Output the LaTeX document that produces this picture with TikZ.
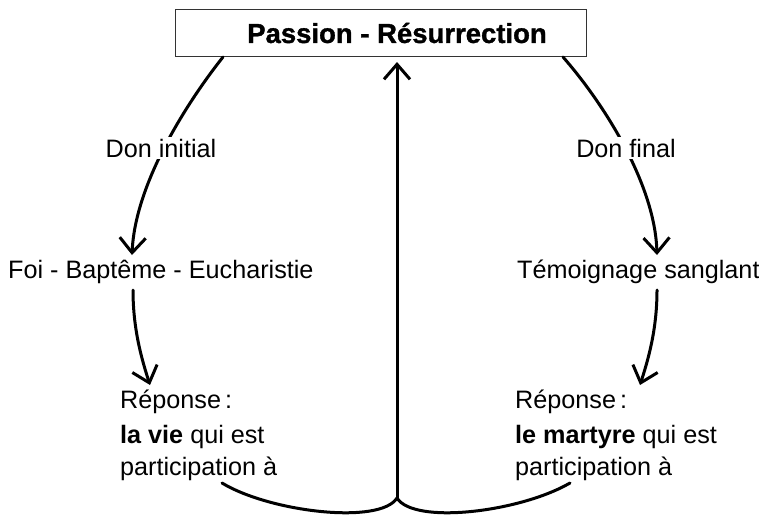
\documentclass[tikz,border=0pt]{standalone}
\usepackage{fontspec}
\setmainfont{Liberation Sans}
\newfontfamily\heavyfont{Liberation Sans Bold}[FakeBold=1.2]
\usetikzlibrary{arrows.meta}
\begin{document}
\begin{tikzpicture}[x=1pt,y=-1pt,
  lbl/.style={font=\fontsize{25.2}{28}\selectfont, inner sep=0pt},
  curve/.style={line width=3pt, line cap=round},
  arr/.style={curve, -{Straight Barb[length=15pt,width=26pt]}},
  frame/.style={draw=black!80, line width=1pt}]
\useasboundingbox (0,0) rectangle (759,520);
% title box
\draw[frame] (175,9) rectangle (586,56);
\node[font=\fontsize{27.5}{30}\heavyfont, inner sep=0pt] (title) at (397,33) {Passion - Résurrection};
\coordinate (tl) at (223,57);
\coordinate (tr) at (563,57);
\coordinate (cusp) at (397,498);
% left top
\coordinate (a1) at (132,255);
\draw[arr] (tl) .. controls (185,105) and (135,185) .. (a1);
\node[lbl, fill=white, inner sep=2pt, anchor=base] (doni) at (161,157) {Don initial};
% right top
\coordinate (b1) at (657,255);
\draw[arr] (tr) .. controls (605,105) and (655,185) .. (b1);
\node[lbl, fill=white, inner sep=2pt, anchor=base] (donf) at (626,157) {Don final};
% middle labels
\node[lbl, anchor=base west] (foi) at (8,278) {Foi - Baptême - Eucharistie};
\node[lbl, anchor=base west] (temo) at (517,278) {Témoignage sanglant};
% left middle
\coordinate (a2) at (133,290);
\coordinate (a3) at (150,385);
\draw[arr] (a2) .. controls (133,330) and (142,360) .. (a3);
% right middle
\coordinate (b2) at (657,290);
\coordinate (b3) at (640,385);
\draw[arr] (b2) .. controls (657,330) and (648,360) .. (b3);
% responses
\node[lbl, anchor=base west] (rl1) at (120,408) {Réponse\,:};
\node[lbl, anchor=base west] (rl2) at (120,443) {\textbf{la vie} qui est};
\node[lbl, anchor=base west] (rl3) at (120,475) {participation à};
\node[lbl, anchor=base west] (rr1) at (515,408) {Réponse\,:};
\node[lbl, anchor=base west] (rr2) at (515,443) {\textbf{le martyre} qui est};
\node[lbl, anchor=base west] (rr3) at (515,475) {participation à};
% bottom
\coordinate (bl) at (222,483);
\coordinate (br) at (570,483);
\draw[curve] (bl) .. controls (270,512) and (380,525) .. (cusp);
\draw[curve] (br) .. controls (520,512) and (414,525) .. (cusp);
% vertical arrow
\coordinate (vtop) at (397,62);
\draw[arr] (cusp) -- (vtop);
\end{tikzpicture}
\end{document}
